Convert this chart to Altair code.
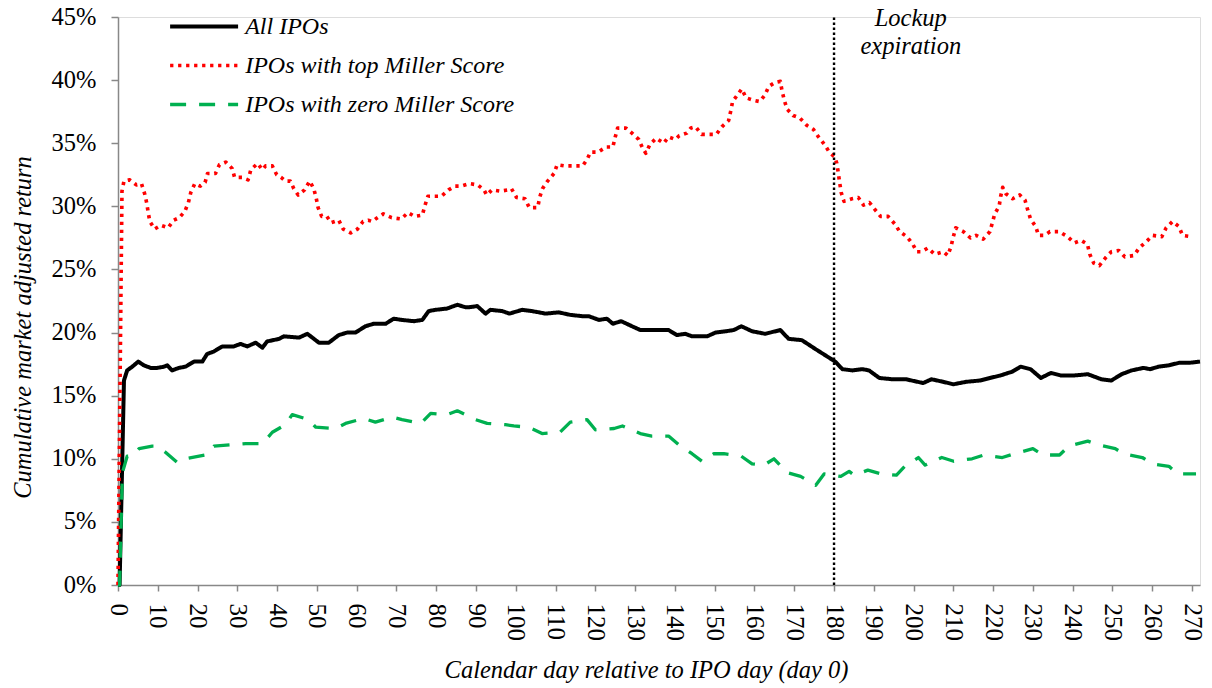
import altair as alt
import pandas as pd

# ---------------- data ----------------
series_names = ["All IPOs", "IPOs with top Miller Score", "IPOs with zero Miller Score"]

all_days = [0, 0.4, 1.5, 2.3, 3.6, 5.1, 6.5, 8.2, 9.9, 11.6, 12.4, 13.6, 15.3, 17.0, 19.1, 21.2,
            22.4, 24.1, 26.2, 29.1, 30.8, 32.5, 34.6, 36.3, 37.5, 40.5, 41.7, 45.5, 47.6, 50.5,
            53.0, 55.5, 57.6, 59.7, 62.2, 64.3, 67.3, 69.3, 71.4, 74.4, 76.5, 78.1, 79.8, 82.7,
            85.3, 87.4, 88.2, 90.3, 92.4, 93.6, 96.6, 98.4, 101.6, 104.1, 107.5, 110.8, 113.7,
            116.7, 118.3, 120.9, 122.9, 124.4, 126.5, 129.2, 131.3, 134.2, 138.4, 140.5, 142.6,
            144.3, 148.1, 150.2, 152.7, 154.8, 156.7, 159.4, 162.7, 166.5, 168.6, 171.9, 175.3,
            177.8, 180.3, 182.1, 184.6, 187.1, 188.8, 191.4, 194.7, 198.1, 202.4, 204.5, 207.4,
            210.0, 213.3, 216.7, 219.2, 221.8, 224.8, 226.9, 229.4, 232.0, 234.5, 237.0, 240.4,
            243.8, 247.2, 249.7, 252.3, 254.8, 257.8, 259.5, 261.6, 264.1, 266.7, 269.2, 272.0]
all_vals = [0.0, 0.0, 16.2, 17.0, 17.3, 17.7, 17.4, 17.2, 17.2, 17.3, 17.4, 17.0, 17.2, 17.3, 17.7, 17.7,
            18.3, 18.5, 18.9, 18.9, 19.1, 18.9, 19.2, 18.8, 19.3, 19.5, 19.7, 19.6, 19.9, 19.2,
            19.2, 19.8, 20.0, 20.0, 20.5, 20.7, 20.7, 21.1, 21.0, 20.9, 21.0, 21.7, 21.8, 21.9,
            22.2, 22.0, 22.0, 22.1, 21.5, 21.8, 21.7, 21.5, 21.8, 21.7, 21.5, 21.6, 21.4,
            21.3, 21.3, 21.0, 21.1, 20.7, 20.9, 20.5, 20.2, 20.2, 20.2, 19.8, 19.9,
            19.7, 19.7, 20.0, 20.1, 20.2, 20.5, 20.1, 19.9, 20.2, 19.5, 19.4, 18.7,
            18.2, 17.7, 17.1, 17.0, 17.1, 17.0, 16.4, 16.3, 16.3, 16.0, 16.3, 16.1,
            15.9, 16.1, 16.2, 16.4, 16.6, 16.9, 17.3, 17.1, 16.4, 16.8, 16.6, 16.6,
            16.7, 16.3, 16.2, 16.7, 17.0, 17.2, 17.1, 17.3, 17.4, 17.6, 17.6, 17.7]

top_days = [0, 1.0, 1.5, 2.9, 4.6, 5.9, 6.7, 7.2, 7.6, 8.0, 9.2, 10.8, 12.6, 14.0, 15.4, 16.8, 17.7,
            18.3, 19.3, 20.7, 21.9, 22.5, 24.5, 25.5, 27.1, 28.7, 29.3, 31.2, 32.7, 33.4, 35.1,
            36.3, 37.1, 38.8, 39.9, 41.0, 42.1, 43.3, 44.2, 45.3, 46.9, 48.2, 49.2, 49.8, 50.3,
            51.2, 52.5, 53.6, 55.5, 56.6, 58.5, 60.2, 61.6, 62.9, 63.9, 65.2, 66.7, 68.8, 71.2,
            72.9, 74.6, 76.5, 77.1, 77.9, 79.2, 81.3, 83.1, 84.7, 86.3, 88.4, 90.4, 92.0, 92.7,
            94.0, 96.1, 98.0, 98.9, 100.2, 102.3, 103.4, 105.5, 106.0, 106.7, 108.0, 109.6,
            110.4, 112.4, 114.6, 116.8, 117.9, 118.8, 120.7, 122.7, 124.4, 125.0, 125.6, 127.7,
            129.2, 130.9, 131.9, 132.7, 133.7, 135.3, 137.2, 138.4, 140.1, 141.1, 143.0, 144.0,
            145.2, 146.7, 148.9, 150.4, 151.8, 153.5, 154.0, 154.5, 155.9, 156.8, 157.9, 159.8,
            161.3, 162.6, 163.6, 165.1, 166.5, 166.9, 167.5, 168.2, 169.7, 171.4, 173.2, 174.8,
            176.1, 177.6, 178.8, 180.2, 180.7, 181.1, 181.4, 181.8, 182.5, 184.5, 186.1, 187.4,
            188.9, 190.4, 191.7, 193.6, 195.3, 196.5, 198.3, 199.8, 200.8, 201.9, 203.6, 205.3,
            207.5, 208.6, 209.4, 210.0, 210.6, 212.5, 214.3, 215.7, 217.5, 219.2, 219.8, 220.4,
            221.5, 221.9, 222.4, 223.2, 224.9, 226.7, 228.0, 228.7, 229.4, 230.7, 231.4, 232.9,
            234.3, 236.6, 238.7, 240.4, 242.1, 243.7, 244.3, 245.3, 246.7, 248.2, 249.7, 251.6,
            253.1, 255.4, 256.7, 258.5, 260.1, 262.4, 263.5, 265.1, 266.7, 267.6, 269.8]
top_vals = [0.0, 31.2, 32.0, 32.1, 31.7, 31.8, 31.0, 30.3, 29.5, 28.8, 28.2, 28.5, 28.3, 28.9, 29.1, 29.6, 30.3,
            31.1, 31.8, 31.6, 31.9, 32.6, 32.6, 33.3, 33.5, 33.0, 32.3, 32.3, 32.1, 32.9, 33.4,
            32.9, 33.2, 33.2, 32.5, 32.3, 32.0, 32.0, 31.4, 30.9, 31.3, 32.0, 31.4, 30.7, 29.9,
            29.2, 29.2, 28.7, 28.9, 28.2, 27.9, 28.2, 28.8, 28.9, 28.8, 29.1, 29.4, 29.1, 29.0,
            29.5, 29.2, 29.3, 30.0, 30.8, 30.8, 30.8, 31.3, 31.6, 31.6, 31.8, 31.7, 31.3, 30.9,
            31.3, 31.2, 31.3, 31.4, 30.7, 30.6, 29.9, 29.9, 30.7, 31.4, 32.0, 32.6,
            33.3, 33.2, 33.2, 33.2, 33.7, 34.3, 34.3, 34.7, 34.7, 35.5, 36.2, 36.2,
            35.8, 35.3, 34.6, 34.2, 34.9, 35.4, 35.0, 35.5, 35.3, 35.6, 35.8, 36.2,
            36.3, 35.7, 35.7, 35.7, 36.3, 36.8, 37.5, 38.3, 38.9, 39.3, 38.6, 38.4,
            38.3, 38.8, 39.5, 39.8, 39.9, 39.2, 38.4, 37.7, 37.2, 37.0, 36.4, 36.1,
            35.5, 34.9, 34.3, 33.9, 33.4, 32.6, 31.9, 31.1, 30.4, 30.6, 30.7, 30.1,
            30.3, 29.7, 29.2, 29.2, 28.6, 28.0, 27.6, 27.0, 26.4, 26.4, 26.7, 26.2,
            26.4, 26.1, 26.8, 27.6, 28.3, 28.0, 27.5, 27.7, 27.4, 28.0, 28.7, 29.4,
            30.0, 30.8, 31.5, 31.0, 30.6, 30.9, 30.5, 29.7, 29.0, 28.4, 27.7, 27.7,
            28.0, 28.0, 27.6, 27.1, 27.3, 27.0, 26.2, 25.5, 25.3, 25.9, 26.4, 26.5,
            26.0, 26.1, 26.7, 27.2, 27.7, 27.6, 28.3, 28.8, 28.4, 27.7, 27.6]

zero_days = [0, 0.4, 1.1, 2.3, 3.6, 5.3, 8.6, 9.9, 12.0, 14.9, 17.0, 22.0, 24.1, 28.3, 32.1, 36.3,
             38.8, 42.1, 43.8, 48.0, 49.7, 54.7, 57.2, 61.8, 64.7, 68.9, 71.4, 76.1, 78.6, 82.7,
             85.3, 89.9, 92.8, 97.4, 99.5, 103.3, 106.6, 111.1, 113.7, 117.9, 120.0, 124.7,
             126.8, 131.3, 134.2, 138.4, 141.0, 144.3, 146.8, 149.8, 152.3, 156.7, 159.4, 162.4,
             164.9, 168.2, 171.6, 175.4, 177.5, 181.7, 183.8, 185.1, 188.5, 191.9, 195.7, 197.8,
             201.2, 202.9, 207.1, 210.1, 214.7, 217.7, 222.3, 225.3, 230.0, 232.5, 236.7, 239.0,
             243.8, 246.5, 250.7, 252.8, 257.5, 260.0, 264.2, 266.4, 269.0, 271.0]
zero_vals = [0.0, 0.0, 8.9, 10.2, 10.2, 10.8, 11.0, 11.0, 10.5, 9.7, 10.0, 10.3, 11.0, 11.1, 11.2, 11.2,
             12.1, 12.7, 13.5, 13.1, 12.5, 12.4, 12.8, 13.2, 12.9, 13.3, 13.1, 12.8, 13.6, 13.5,
             13.8, 13.1, 12.8, 12.7, 12.6, 12.5, 12.0, 12.1, 12.9, 13.1, 12.3, 12.4,
             12.6, 12.0, 11.8, 11.8, 11.1, 10.4, 9.8, 10.4, 10.4, 10.2, 9.6, 9.5,
             10.0, 8.9, 8.6, 7.9, 8.8, 8.6, 9.0, 8.7, 9.1, 8.8, 8.7, 9.4,
             10.1, 9.5, 10.1, 9.8, 10.0, 10.3, 10.1, 10.4, 10.8, 10.3, 10.3, 11.0,
             11.4, 11.1, 10.8, 10.4, 10.1, 9.6, 9.4, 8.8, 8.8, 8.8]

y_ticks = [0, 0.05, 0.10, 0.15, 0.20, 0.25, 0.30, 0.35, 0.40, 0.45]
x_ticks = list(range(0, 275, 5))

lockup_day = [180]
lockup_label_day = [199.3]
lockup_label_y = [0.4429]
lockup_label = ["Lockup\nexpiration"]

# ---------------- build table ----------------
frames = []
for name, d, v in [(series_names[0], all_days, all_vals),
                   (series_names[1], top_days, top_vals),
                   (series_names[2], zero_days, zero_vals)]:
    frames.append(pd.DataFrame({"day": d, "ret": [x / 100 for x in v], "series": name}))
df = pd.concat(frames, ignore_index=True)
df["order"] = range(len(df))

FONT = "Liberation Serif, Times New Roman, Times, DejaVu Serif, serif"

xscale = alt.Scale(domain=[0, 272], nice=False, zero=False)
yscale = alt.Scale(domain=[0, 0.45], nice=False)

legend = alt.Legend(
    orient="none", legendX=61.6, legendY=-15, title=None, padding=0,
    symbolType="M-1.511,0H1.511", symbolSize=2025, symbolStrokeWidth=3.8,
    labelFont=FONT, labelFontSize=24, labelFontStyle="italic", labelColor="black",
    labelLimit=500, labelOffset=16.6,
)

lines = alt.Chart(df).mark_line(strokeJoin="round").encode(
    x=alt.X("day:Q", scale=xscale, axis=alt.Axis(
        values=x_ticks,
        labelExpr="datum.value % 10 === 0 ? datum.value : ''",
        labelAngle=90, labelFont=FONT, labelFontSize=25, labelColor="black",
        labelPadding=12, labelOverlap=False, labelFlush=False,
        tickSize=6, tickColor="#888888", tickWidth=1.5,
        domainColor="#888888", domainWidth=1.5, grid=False,
        title="Calendar day relative to IPO day (day 0)",
        titleFont=FONT, titleFontSize=24.5, titleFontStyle="italic", titleFontWeight="normal",
        titleColor="black", titleX=528, titleY=92, titleBaseline="alphabetic",
        titleAnchor="start", titleAlign="center",
    )),
    y=alt.Y("ret:Q", scale=yscale, axis=alt.Axis(
        values=y_ticks, format=".0%",
        labelFont=FONT, labelFontSize=24.5, labelColor="black", labelPadding=15,
        tickSize=7, tickColor="#888888", tickWidth=1.5,
        domainColor="#888888", domainWidth=1.5, grid=False,
        title="Cumulative market adjusted return",
        titleFont=FONT, titleFontSize=24.5, titleFontStyle="italic", titleFontWeight="normal",
        titleColor="black", titleX=-95, titleY=310, titleAngle=-90,
        titleBaseline="middle", titleAlign="center", titleAnchor="start",
    )),
    color=alt.Color("series:N", scale=alt.Scale(domain=series_names,
                                                range=["#000000", "#ff0000", "#00b050"]),
                    legend=legend),
    strokeDash=alt.StrokeDash("series:N", scale=alt.Scale(domain=series_names,
                                                          range=[[1, 0], [3.3, 4.7], [16, 13]]),
                              legend=legend),
    strokeWidth=alt.StrokeWidth("series:N", scale=alt.Scale(domain=series_names,
                                                            range=[4, 3.3, 4]),
                                legend=None),
    detail="series:N",
    order="order:Q",
)

rule_df = pd.DataFrame({"day": lockup_day})
rule = alt.Chart(rule_df).mark_rule(color="black", strokeWidth=2.4, strokeDash=[2.4, 2.6]).encode(
    x=alt.X("day:Q", scale=xscale),
    y=alt.datum(0.0),
    y2=alt.datum(0.45),
)

text_df = pd.DataFrame({"day": lockup_label_day, "y": lockup_label_y, "label": lockup_label})
text = alt.Chart(text_df).mark_text(
    font=FONT, fontSize=24.5, fontStyle="italic", color="black",
    align="center", baseline="alphabetic", lineBreak="\n", lineHeight=28,
).encode(
    x=alt.X("day:Q", scale=xscale),
    y=alt.Y("y:Q", scale=yscale),
    text="label:N",
)

chart = alt.layer(lines, rule, text).properties(
    width=1082, height=568,
    autosize=alt.AutoSizeParams(type="none"),
    padding={"left": 110, "top": 9, "right": 4, "bottom": 100},
).configure_view(stroke=None).configure(background="white")

chart.save("out.html", embed_options={"renderer": "svg", "actions": False})
